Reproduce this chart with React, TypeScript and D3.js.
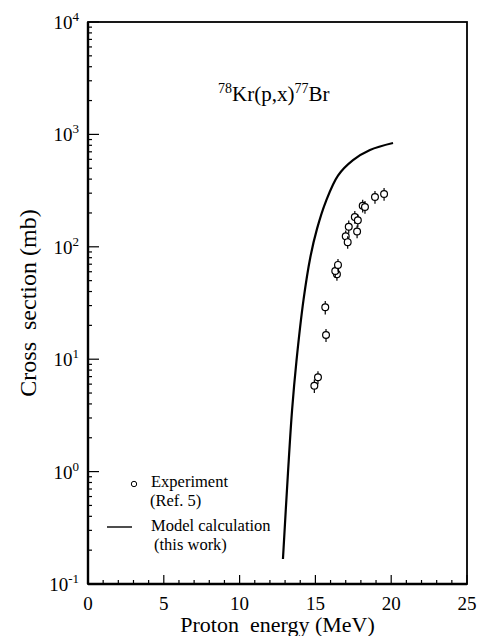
import React from "react";
import * as d3 from "d3";

// model calculation (this work)
const curveEnergy = [12.86, 13.19, 13.46, 13.75, 14.22, 14.66, 15.11, 15.7, 16.49, 17.48, 18.6, 20.12];
const curveXs = [0.167, 0.97, 3.5, 9.6, 34, 80, 145, 255, 430, 590, 727, 838];

// experiment (Ref. 5)
const expEnergy = [14.93, 15.17, 15.7, 15.65, 16.42, 16.31, 16.49, 17.0, 17.13, 17.2, 17.6, 17.8, 17.75, 18.12, 18.27, 18.93, 19.53];
const expXs = [5.8, 6.9, 16.4, 29, 57, 61, 69, 124, 110, 151, 184, 172, 137, 232, 226, 277, 295];
const expErr = [0.8, 0.9, 2.2, 4, 7, 8, 9, 16, 14, 20, 24, 22, 18, 30, 29, 36, 38];

const xTickLabels = [0, 5, 10, 15, 20, 25];
const yTickExps = [-1, 0, 1, 2, 3, 4];

const W = 480;
const H = 636;
const margin = { top: 22, right: 13, bottom: 52, left: 88 };
const serif = "'Liberation Serif', 'Times New Roman', 'DejaVu Serif', serif";

export default function App() {
  const x = d3.scaleLinear().domain([0, 25]).range([margin.left, W - margin.right]);
  const y = d3.scaleLog().domain([0.1, 1e4]).range([H - margin.bottom, margin.top]);

  const line = d3
    .line<number>()
    .x((d, i) => x(curveEnergy[i]))
    .y((d) => y(d))
    .curve(d3.curveCatmullRom.alpha(0.5));

  const x0 = x(0), x1 = x(25), yb = y(0.1), yt = y(1e4);

  // minor/major ticks from the scales
  const yTicks = y.ticks();
  const xTicks = x.ticks(25);
  const isPow10 = (v: number) => Math.abs(Math.log10(v) - Math.round(Math.log10(v))) < 1e-9;

  const txt = { fontFamily: serif, fill: "#000" };

  return (
    <svg width={W} height={H} style={{ position: "absolute", left: 0, top: 0, background: "#fff", fontFamily: serif }}>
      {/* frame */}
      <rect x={x0} y={yt} width={x1 - x0} height={yb - yt} fill="none" stroke="#000" strokeWidth={1.8} />
      <line x1={x0} x2={x0} y1={yt} y2={yb} stroke="#000" strokeWidth={2.4} />
      <line x1={x0} x2={x1} y1={yb} y2={yb} stroke="#000" strokeWidth={2.4} />

      {/* y ticks */}
      {yTicks.map((t, i) => (
        <line key={"yt" + i} x1={x0} x2={x0 + (isPow10(t) ? 11 : 4)} y1={y(t)} y2={y(t)} stroke="#000" strokeWidth={1.2} />
      ))}
      {yTickExps.map((e) => (
        <text key={"yl" + e} x={79} y={y(Math.pow(10, e)) + 7} textAnchor="end" fontSize={19} style={txt}>
          10<tspan fontSize={13} dy={-8}>{e}</tspan>
        </text>
      ))}

      {/* x ticks */}
      {xTicks.map((t, i) => (
        <line key={"xt" + i} x1={x(t)} x2={x(t)} y1={yb} y2={yb - (t % 5 === 0 ? 9 : 4)} stroke="#000" strokeWidth={1.2} />
      ))}
      {xTickLabels.map((t) => (
        <text key={"xl" + t} x={x(t)} y={610} textAnchor="middle" fontSize={19} style={txt}>{t}</text>
      ))}

      {/* axis titles */}
      <text x={(x0 + x1) / 2} y={632} textAnchor="middle" fontSize={22} style={txt}>
        Proton{"\u00a0\u00a0"}energy (MeV)
      </text>
      <text transform={`translate(36,${(yt + yb) / 2}) rotate(-90)`} textAnchor="middle" fontSize={24} style={txt}>
        Cross{"\u00a0\u00a0"}section (mb)
      </text>

      {/* reaction label */}
      <text x={218} y={101} fontSize={21} style={txt}>
        <tspan fontSize={14} dy={-8}>78</tspan>
        <tspan dy={8}>Kr(p,x)</tspan>
        <tspan fontSize={14} dy={-8}>77</tspan>
        <tspan dy={8}>Br</tspan>
      </text>

      {/* model curve */}
      <path d={line(curveXs) || ""} fill="none" stroke="#000" strokeWidth={2.2} />

      {/* experiment points with error bars */}
      {expEnergy.map((e, i) => (
        <g key={"p" + i}>
          <line x1={x(e)} x2={x(e)} y1={y(expXs[i] + expErr[i])} y2={y(expXs[i] - expErr[i])} stroke="#000" strokeWidth={1.2} />
          <circle cx={x(e)} cy={y(expXs[i])} r={3.4} fill="#fff" stroke="#000" strokeWidth={1.2} />
        </g>
      ))}

      {/* legend */}
      <circle cx={134} cy={484} r={2.7} fill="#fff" stroke="#000" strokeWidth={1} />
      <text x={151} y={487} fontSize={16.5} style={txt}>Experiment</text>
      <text x={150} y={506} fontSize={16.5} style={txt}>(Ref. 5)</text>
      <line x1={107} x2={132} y1={527} y2={527} stroke="#000" strokeWidth={1.4} />
      <text x={151} y={531} fontSize={16.5} style={txt}>Model calculation</text>
      <text x={154} y={550} fontSize={16.5} style={txt}>(this work)</text>
    </svg>
  );
}
